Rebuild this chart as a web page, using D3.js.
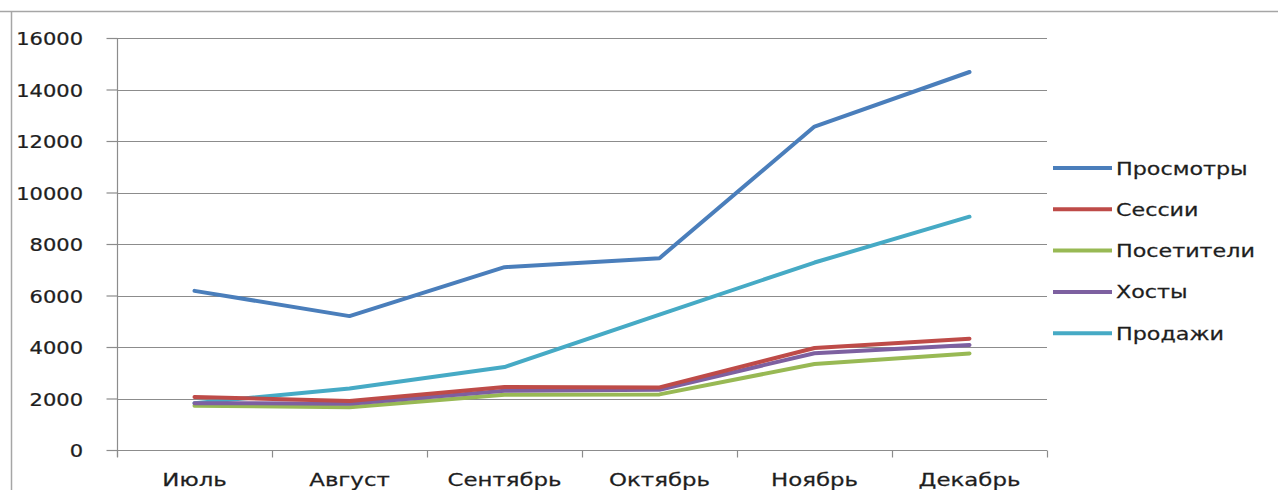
<!DOCTYPE html>
<html>
<head>
<meta charset="utf-8">
<script src="https://cdn.jsdelivr.net/npm/d3@7"></script>
<style>
  html, body { margin: 0; padding: 0; background: #fff; }
  svg { display: block; }
  text { font-family: "DejaVu Sans", Verdana, sans-serif; fill: #1e1e1e; stroke: #1e1e1e; stroke-width: 0.25px; }
</style>
</head>
<body>
<svg id="chart" width="1278" height="490"></svg>
<script>
// Monthly site statistics, July–December
const months = ["Июль", "Август", "Сентябрь", "Октябрь", "Ноябрь", "Декабрь"];
const seriesNames = ["Просмотры", "Сессии", "Посетители", "Хосты", "Продажи"];
const seriesColors = ["#4a7ebb", "#be4b48", "#98b954", "#7d60a0", "#46aac5"];

const views    = [6180, 5200, 7100, 7450, 12560, 14680];
const sessions = [2060, 1900, 2450, 2430, 3960, 4320];
const visitors = [1720, 1660, 2150, 2160, 3340, 3750];
const hosts    = [1820, 1800, 2300, 2340, 3760, 4080];
const sales    = [1820, 2390, 3220, 5260, 7280, 9060];

const seriesValues = [views, sessions, visitors, hosts, sales];
const yTicks = [0, 2000, 4000, 6000, 8000, 10000, 12000, 14000, 16000];

const svg = d3.select("#chart");
const wide = 1.27; // horizontal stretch applied to all labels

// outer chart frame (top and left edges visible)
svg.append("path")
  .attr("d", "M0,11.5 H1278 M11.5,11.5 V490")
  .attr("stroke", "#a6a6a6").attr("stroke-width", 1.5).attr("fill", "none");

const plot = { left: 117, right: 1047, top: 38, bottom: 450 };

const x = d3.scaleBand().domain(months).range([plot.left, plot.right]).padding(0);
const y = d3.scaleLinear().domain([0, 16000]).range([plot.bottom, plot.top]);

// horizontal gridlines
svg.append("g")
  .selectAll("line")
  .data(yTicks.filter(d => d > 0))
  .join("line")
  .attr("x1", plot.left).attr("x2", plot.right)
  .attr("y1", d => Math.round(y(d)) + 0.5).attr("y2", d => Math.round(y(d)) + 0.5)
  .attr("stroke", "#8c8c8c").attr("stroke-width", 1.2);

// y axis
const yAxis = svg.append("g")
  .attr("transform", `translate(${plot.left + 0.5},0)`)
  .call(d3.axisLeft(y).tickValues(yTicks).tickSize(11).tickPadding(0).tickFormat(d3.format("d")));
yAxis.select(".domain").attr("stroke", "#8c8c8c").attr("stroke-width", 1.2)
  .attr("d", `M0,${plot.top}V${plot.bottom + 7}`);
yAxis.selectAll(".tick line").attr("stroke", "#8c8c8c").attr("stroke-width", 1.2);
yAxis.selectAll(".tick text")
  .attr("x", null).attr("dy", null)
  .attr("transform", `translate(-34.5,6.5) scale(1.2,1)`)
  .attr("text-anchor", "end")
  .attr("font-family", null).attr("font-size", null)
  .style("font-size", "17.5px");

// x axis: ticks at band boundaries, labels centred on bands
const xAxisG = svg.append("g").attr("transform", `translate(0,${Math.round(y(0)) + 0.5})`);
xAxisG.append("line")
  .attr("x1", plot.left).attr("x2", plot.right)
  .attr("stroke", "#8c8c8c").attr("stroke-width", 1.2);
const boundaries = months.map(m => x(m)).concat([plot.right]);
xAxisG.selectAll("line.tick")
  .data(boundaries)
  .join("line").attr("class", "tick")
  .attr("x1", d => Math.round(d) + 0.5).attr("x2", d => Math.round(d) + 0.5)
  .attr("y1", 0).attr("y2", 7)
  .attr("stroke", "#8c8c8c").attr("stroke-width", 1.2);
xAxisG.selectAll("text")
  .data(months)
  .join("text")
  .attr("transform", d => `translate(${x(d) + x.bandwidth() / 2},35) scale(${wide},1)`)
  .attr("text-anchor", "middle")
  .style("font-size", "18px")
  .text(d => d);

// series lines
const line = d3.line()
  .x((d, i) => x(months[i]) + x.bandwidth() / 2)
  .y(d => y(d));

const drawOrder = [4, 2, 3, 1, 0];
svg.append("g")
  .selectAll("path")
  .data(drawOrder)
  .join("path")
  .attr("d", i => line(seriesValues[i]))
  .attr("fill", "none")
  .attr("stroke", i => seriesColors[i])
  .attr("stroke-width", 4)
  .attr("stroke-linejoin", "round")
  .attr("stroke-linecap", "round");

// legend
const legend = svg.append("g").attr("transform", "translate(1053,168)");
const rows = legend.selectAll("g")
  .data(seriesNames)
  .join("g")
  .attr("transform", (d, i) => `translate(0,${i * 41.3})`);
rows.append("line")
  .attr("x1", 0).attr("x2", 59)
  .attr("stroke", (d, i) => seriesColors[i])
  .attr("stroke-width", 4);
rows.append("text")
  .attr("transform", `translate(63,6.5) scale(${wide},1)`)
  .style("font-size", "17.5px")
  .text(d => d);
</script>
</body>
</html>
